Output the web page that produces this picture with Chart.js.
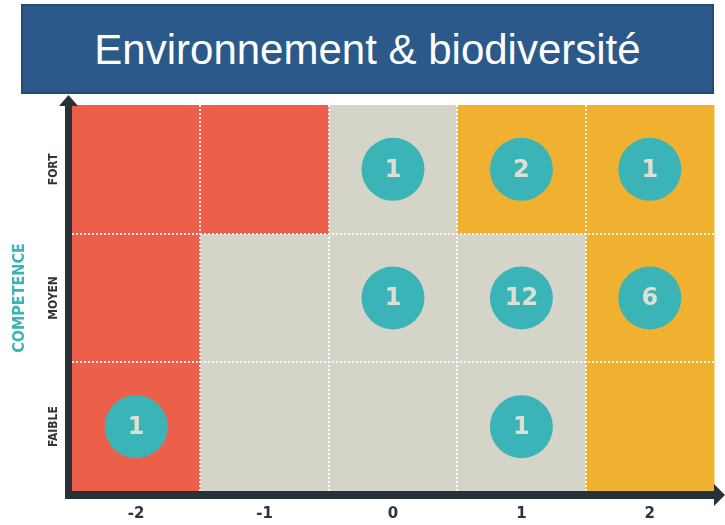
<html>
<head>
  <meta charset="UTF-8">
  <script src="https://cdn.jsdelivr.net/npm/chart.js@4.4.1/dist/chart.umd.min.js"></script>
  <style>
    body { margin: 0; background: #fff; }
    #wrap { position: relative; width: 725px; height: 525px; }
    #titre {
      position: absolute; left: 21px; top: 4px; width: 689px; height: 86px;
      background: #2b5a8a; border: 2px solid #234b76;
      color: #fff; font-family: 'Liberation Sans', Arial, sans-serif; font-size: 42px;
      line-height: 88px; text-align: center; z-index: 2;
    }
  </style>
</head>
<body>
<div id="wrap">
  <div id="titre">Environnement &amp; biodiversité</div>
  <canvas id="chart" width="725" height="525"></canvas>
</div>
<script>
  // axes
  const xLabels = ['-2', '-1', '0', '1', '2'];
  const yLabels = ['FAIBLE', 'MOYEN', 'FORT'];
  const yTitle = 'COMPETENCE';

  // zone de chaque case (0 = rouge, 1 = gris, 2 = orange), par ligne
  const zoneFaible = [0, 1, 1, 1, 2];
  const zoneMoyen  = [0, 1, 1, 1, 2];
  const zoneFort   = [0, 0, 1, 2, 2];

  // cercles
  const pointX = [0, 1, 2, 0, 1, 2, -2, 1];
  const pointY = [2, 2, 2, 1, 1, 1, 0, 0];
  const counts = [1, 2, 1, 1, 12, 6, 1, 1];

  const zoneColors = ['#ec604b', '#d5d4c9', '#f1b130'];
  const axisColor = '#263238';

  const grille = {
    id: 'grille',
    beforeDatasetsDraw(chart) {
      const ctx = chart.ctx, xs = chart.scales.x, ys = chart.scales.y;
      const rows = [zoneFaible, zoneMoyen, zoneFort];
      ctx.save();
      rows.forEach((row, j) => {
        row.forEach((z, i) => {
          const v = i - 2;
          const x0 = xs.getPixelForValue(v - 0.5), x1 = xs.getPixelForValue(v + 0.5);
          const y0 = ys.getPixelForValue(j + 0.5), y1 = ys.getPixelForValue(j - 0.5);
          ctx.fillStyle = zoneColors[z];
          ctx.fillRect(x0, y0, x1 - x0 + 0.5, y1 - y0 + 0.5);
        });
      });
      // pointillés blancs
      ctx.strokeStyle = 'rgba(255,255,255,0.85)';
      ctx.lineWidth = 2;
      ctx.setLineDash([2, 2]);
      const a = chart.chartArea;
      for (let k = -1.5; k <= 1.5; k += 1) {
        const px = Math.round(xs.getPixelForValue(k));
        ctx.beginPath(); ctx.moveTo(px, a.top); ctx.lineTo(px, a.bottom); ctx.stroke();
      }
      for (let k = 0.5; k <= 1.5; k += 1) {
        const py = Math.round(ys.getPixelForValue(k));
        ctx.beginPath(); ctx.moveTo(a.left, py); ctx.lineTo(a.right, py); ctx.stroke();
      }
      ctx.restore();
    },
    afterDatasetsDraw(chart) {
      const ctx = chart.ctx, xs = chart.scales.x, ys = chart.scales.y;
      const a = chart.chartArea;
      ctx.save();
      // nombres dans les cercles
      ctx.fillStyle = '#dfdfd3';
      ctx.font = 'bold 24px "DejaVu Sans"';
      ctx.textAlign = 'center';
      ctx.textBaseline = 'middle';
      counts.forEach((c, i) => {
        ctx.fillText(String(c), xs.getPixelForValue(pointX[i]), ys.getPixelForValue(pointY[i]) + 1);
      });

      // axes avec flèches
      ctx.fillStyle = axisColor;
      ctx.fillRect(a.left - 7, a.top - 2, 7, a.bottom - a.top + 10);
      ctx.fillRect(a.left - 7, a.bottom, a.right - a.left + 7, 8);
      ctx.beginPath();
      ctx.moveTo(a.left - 3.5, a.top - 10);
      ctx.lineTo(a.left + 6, a.top + 1);
      ctx.lineTo(a.left - 13, a.top + 1);
      ctx.closePath(); ctx.fill();
      ctx.beginPath();
      ctx.moveTo(a.right + 11, a.bottom + 4);
      ctx.lineTo(a.right, a.bottom - 7);
      ctx.lineTo(a.right, a.bottom + 15);
      ctx.closePath(); ctx.fill();

      // étiquettes x
      ctx.fillStyle = '#2e3538';
      ctx.font = 'bold 15px "DejaVu Sans"';
      xLabels.forEach((l, i) => {
        ctx.fillText(l, xs.getPixelForValue(i - 2), a.bottom + 23);
      });

      // étiquettes y (verticales)
      ctx.font = 'bold 12px "DejaVu Sans Condensed", "DejaVu Sans"';
      yLabels.forEach((l, j) => {
        ctx.save();
        ctx.translate(a.left - 18, ys.getPixelForValue(j));
        ctx.rotate(-Math.PI / 2);
        ctx.fillText(l, 0, 0);
        ctx.restore();
      });
      ctx.save();
      ctx.fillStyle = '#3ab4b6';
      ctx.font = 'bold 16px "DejaVu Sans Condensed", "DejaVu Sans"';
      ctx.translate(20, (a.top + a.bottom) / 2);
      ctx.rotate(-Math.PI / 2);
      ctx.fillText(yTitle, 0, 0);
      ctx.restore();
      ctx.restore();
    }
  };

  new Chart(document.getElementById('chart'), {
    type: 'scatter',
    data: {
      datasets: [{
        data: pointX.map((x, i) => ({ x: x, y: pointY[i] })),
        backgroundColor: '#3ab4b6',
        borderWidth: 0,
        pointRadius: 31.5,
        pointHoverRadius: 31.5,
        clip: false
      }]
    },
    options: {
      responsive: false,
      animation: false,
      events: [],
      layout: { autoPadding: false, padding: { left: 72, right: 11, top: 105, bottom: 34 } },
      plugins: { legend: { display: false }, tooltip: { enabled: false } },
      scales: {
        x: { type: 'linear', min: -2.5, max: 2.5, display: false },
        y: { type: 'linear', min: -0.5, max: 2.5, display: false }
      }
    },
    plugins: [grille]
  });
</script>
</body>
</html>
